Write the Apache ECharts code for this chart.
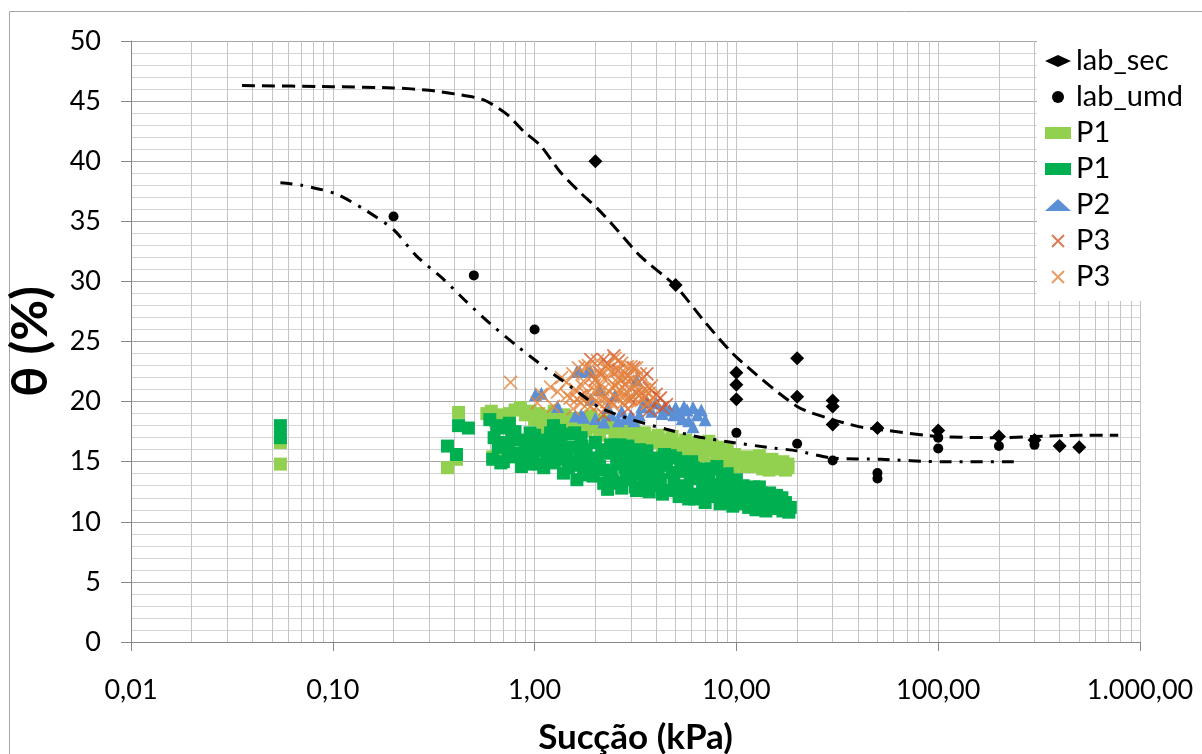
<!DOCTYPE html>
<html>
<head>
<meta charset="utf-8">
<script src="https://cdn.jsdelivr.net/npm/echarts@6/dist/echarts.min.js"></script>
<style>
html,body{margin:0;padding:0;background:#fff;}
#chart{width:1202px;height:754px;}
</style>
</head>
<body>
<div id="chart"></div>
<script>
// ---- tick labels ----
const xTicks = [0.01, 0.1, 1, 10, 100, 1000];
const xTickLabels = ['0,01', '0,10', '1,00', '10,00', '100,00', '1.000,00'];
const xMinorMultipliers = [2, 3, 4, 5, 6, 7, 8, 9];
const legendNames = ['lab_sec', 'lab_umd', 'P1', 'P1 ', 'P2', 'P3', 'P3 '];

// ---- laboratory points [suction kPa, theta %] ----
const labSec = [[2,40.0],[5,29.7],[10,22.4],[10,21.4],[10,20.2],[20,23.6],[20,20.4],[30,20.1],[30,19.6],[30,18.1],[50,17.8],[100,17.6],[200,17.1],[300,16.8],[400,16.3],[500,16.2]];
const labUmd = [[0.2,35.4],[0.5,30.5],[1,26.0],[10,17.4],[20,16.5],[30,15.1],[50,14.05],[50,13.6],[100,17.0],[100,16.1],[200,16.3],[300,16.4]];

// ---- field points ----
const p1a = [[0.055,14.8],[0.055,16.6],[0.37,14.5],[0.41,15.2],[0.42,19.1],
  [0.58,19.0],[0.61,19.2],[0.66,18.9],[0.72,18.7],[0.8,19.3],[0.85,19.5],[0.7,15.9],[0.62,15.4],[0.9,18.9],
  [1.0,18.5],[1.05,19.0],[1.1,18.2],[1.2,18.8],[1.3,18.4],[1.4,18.9],[1.5,18.1],[1.15,17.5],[1.35,17.0],
  [1.6,18.6],[1.75,18.3],[1.9,18.8],[2.0,17.9],[2.2,18.4],[2.4,18.0],[2.1,17.2],[1.8,17.6],[2.5,17.4],
  [2.6,17.9],[2.9,17.6],[3.1,17.7],[3.3,17.2],[3.5,17.4],[3.8,17.0],[3.0,16.6],[3.6,16.3],
  [4.1,17.2],[4.4,16.8],[4.8,17.1],[5.2,16.5],[5.6,16.8],[6.0,16.2],[6.5,16.6],[7.0,16.1],[4.6,15.9],[5.5,15.6],[6.3,15.3],
  [7.3,16.7],[8.2,16.2],[7.5,15.9],[8.0,15.5],[8.6,15.8],[9.2,15.2],[9.8,15.6],[10.5,15.0],[11.2,15.4],[7.8,14.8],[9.5,14.6],[11,14.6],
  [12,15.3],[13,15.0],[14,14.8],[15,15.2],[16,14.7],[17,15.0],[18,14.8],[13.5,14.4],[16.5,14.4],[18,14.5],
  [0.64,18.4],[0.75,19.0],[0.95,19.2],[1.25,19.2],[1.45,18.5],[1.65,18.0],[1.85,18.2],[2.3,17.8],[2.7,17.3],[3.2,16.9],[3.9,16.6],[4.3,16.3],[4.9,16.2],[5.8,16.0],[6.2,15.8],[6.8,15.5],[7.6,16.3],[8.4,15.1],[9.0,16.0],[10.1,15.3],[11.6,14.9],[12.5,14.6],[14.5,14.3],[15.5,14.6],[17.5,14.3],[13,15.5]];
const p1b = [[0.055,18.0],[0.055,17.0],[0.37,16.3],[0.41,15.6],[0.42,18.0],[0.47,17.8],
  [0.6,18.5],[0.65,18.0],[0.7,17.8],[0.75,18.2],[0.8,17.5],[0.63,17.0],[0.72,16.6],[0.85,16.8],[0.62,15.2],[0.7,15.0],[0.78,15.4],[0.82,15.7],[0.9,16.2],[0.92,14.8],[0.95,17.4],
  [1.0,17.2],[1.07,16.8],[1.1,15.9],[1.15,15.7],[1.2,16.4],[1.24,18.0],[1.3,15.2],[1.11,14.5],[1.39,14.05],[1.35,16.8],[1.45,15.8],[1.5,17.3],[1.25,14.9],
  [1.55,16.2],[1.62,13.5],[1.6,15.0],[1.7,17.0],[1.75,14.4],[1.8,16.0],[1.9,15.3],[1.95,13.8],[2.0,16.6],[2.1,14.6],[2.2,13.2],[2.25,15.7],[2.3,12.7],[2.4,14.1],[2.5,16.1],[2.45,13.4],
  [2.6,15.2],[2.7,12.8],[2.8,14.5],[2.9,16.3],[3.0,13.6],[3.1,15.6],[3.2,12.6],[3.3,14.8],[3.5,13.3],[3.6,15.9],[3.7,12.5],[3.8,14.2],[4.0,15.3],[4.0,13.0],
  [4.3,12.3],[4.5,14.7],[4.7,15.5],[4.9,13.4],[5.2,12.1],[5.4,14.2],[5.7,12.9],[6.0,15.0],[6.2,11.9],[6.5,13.6],[6.9,12.5],[7.0,11.6],[5.0,15.3],[6.7,14.4],
  [7.3,13.9],[7.6,12.1],[8.0,14.6],[8.3,11.5],[8.8,13.2],[9.2,12.4],[9.6,11.3],[10,13.5],[10.5,11.9],[11,12.7],[11.5,11.2],[12,12.2],
  [12.5,11.0],[13,12.9],[13.5,11.6],[14,10.9],[14.6,12.4],[15.5,11.1],[16,11.8],[17,10.9],[18,11.0],[18.5,11.2],[17.5,11.6],[15,12.0],
  [0.66,16.2],[0.74,16.0],[0.88,15.6],[0.98,15.2],[0.68,14.9],[0.86,14.6],[0.96,16.6],[0.77,17.0],
  [1.05,14.8],[1.18,15.0],[1.28,16.1],[1.4,15.3],[1.47,14.5],[1.33,17.6],[1.2,17.4],[1.02,16.0],
  [1.58,17.4],[1.65,14.7],[1.72,16.3],[1.85,13.9],[1.88,14.8],[2.05,15.3],[2.15,16.0],[2.2,14.3],[2.35,13.6],[2.38,16.4],[1.68,15.6],[2.55,14.8],[2.6,13.2],
  [2.75,15.8],[2.85,13.5],[2.95,14.9],[3.05,14.2],[3.15,12.9],[3.4,15.3],[3.45,14.0],[3.55,12.8],[3.75,15.0],[3.9,13.6],[3.3,16.0],[2.65,16.4],
  [4.1,14.4],[4.2,13.5],[4.4,15.6],[4.6,12.6],[4.8,14.1],[5.1,13.0],[5.3,15.0],[5.5,12.4],[5.9,13.7],[6.1,14.5],[6.4,12.3],[6.8,13.1],[5.8,11.9],[7.0,14.2],
  [7.2,12.8],[7.5,14.4],[7.8,13.1],[8.1,12.5],[8.5,13.8],[8.7,11.6],[9.0,14.0],[9.4,12.9],[9.9,12.2],[10.2,11.5],[10.8,13.0],[11.3,12.1],[11.8,11.6],[12.2,12.9],
  [12.8,11.9],[13.3,12.4],[13.8,11.3],[14.3,11.8],[15.2,11.5],[15.8,12.2],[16.5,11.2],[17.2,11.4],[18.2,10.8],[16.8,12.0]];
const p2 = [[1.01,20.6],[1.08,20.7],[1.59,18.8],[1.62,22.5],[1.67,22.5],[1.83,22.5],[1.89,22.5],[1.7,18.9],[1.9,20.2],[2.1,21.0],[2.3,19.5],[2.5,20.5],[2.7,19.2],[3.0,18.8],[3.2,21.8],[3.4,19.6],[3.6,20.0],[4.0,19.9],[4.3,19.0],[4.66,19.3],[4.9,18.9],[5.0,19.5],[5.4,18.6],[5.5,19.6],[6.1,19.5],[6.1,17.9],[6.7,19.3],[7.0,18.5],[2.0,18.6],[2.6,18.4],[3.1,18.4],
  [1.75,18.7],[2.2,18.3],[2.4,18.9],[2.8,18.6],[3.3,18.9],[3.8,19.2],[4.4,19.5],[5.2,19.0],[5.7,19.3],[5.8,18.4],[6.4,18.9],[1.3,19.6]];
const p3a = [[1.9,23.5],[2.2,23.5],[2.47,23.8],[2.2,18.9],[2.6,22.6],[2.8,21.4],[3.0,20.2],[3.2,20.7],[3.4,21.9],[3.7,21.1],[3.7,19.3],[4.0,20.6],[4.2,20.3],[4.5,19.75],[2.4,20.0],[2.0,21.8],[1.7,20.5],[3.1,22.8],[2.9,19.4],[3.5,20.4],
  [2.3,23.1],[2.6,23.4],[2.9,22.1],[3.3,20.5],[3.9,19.7],[4.3,19.5],[3.6,22.3],[2.1,22.4]];
const p3b = [[0.76,21.6],[1.03,19.9],[1.08,20.6],[1.24,19.6],[1.36,22.0],[1.44,21.6],[1.5,20.3],[1.55,19.4],[1.6,21.0],[1.65,22.8],[1.7,19.9],[1.75,21.7],[1.8,20.6],[1.85,23.0],[1.9,19.6],[1.95,22.2],[2.0,20.9],[2.05,23.4],[2.1,21.5],[2.1,19.8],[2.15,22.6],[2.2,20.4],[2.25,23.0],[2.3,21.9],[2.35,20.8],[2.4,22.5],[2.45,19.7],[2.5,21.3],[2.5,23.6],[2.55,20.3],[2.6,22.0],[2.65,21.0],[2.7,23.2],[2.75,19.9],[2.8,22.4],[2.85,20.8],[2.9,21.7],[3.0,22.9],[3.0,20.5],[3.1,21.3],[3.2,22.8],[3.25,20.0],[3.3,21.6],[3.4,20.8],[3.5,21.0],[3.6,19.8],[3.7,20.7],[3.9,20.2],[1.3,20.8],[1.2,21.2],
  [1.45,20.5],[1.55,22.3],[1.62,20.2],[1.78,22.9],[1.82,19.8],[1.98,21.4],[2.08,20.3],[2.12,22.2],[2.18,21.0],[2.28,20.0],[2.32,22.7],[2.42,21.2],[2.52,22.6],[2.58,21.6],[2.62,20.6],[2.72,21.8],[2.78,20.4],[2.88,22.9],[2.95,20.1],[3.05,21.9],[3.15,20.8],[3.35,22.3],[3.45,20.2],[3.8,21.3],[2.22,19.4],[1.92,20.4],[1.72,21.3]];

// ---- fitted curves ----
const dryCurve = [[0.0355,46.3],[0.1,46.2],[0.2,46.1],[0.3,45.9],[0.4,45.6],[0.56,45.1],[0.73,43.9],[0.88,42.5],[1.07,41.3],[1.34,39.1],[1.68,37.4],[2.04,36.1],[2.56,34.3],[3.34,32.1],[5,29.6],[7,26.6],[10,23.7],[20,19.6],[30,18.5],[41,17.9],[50,17.7],[100,17.1],[200,17.0],[300,17.1],[500,17.2],[780,17.2]];
const wetCurve = [[0.055,38.2],[0.07,38.0],[0.103,37.3],[0.146,35.9],[0.2,34.3],[0.26,32.1],[0.35,30.25],[0.46,28.3],[0.61,26.4],[0.83,24.55],[1.13,22.8],[1.55,21.1],[2.11,19.5],[3.03,18.5],[4.5,17.7],[6.5,17.06],[9.6,16.6],[14.2,16.2],[20,15.9],[30,15.3],[52,15.2],[103,15.0],[246,15.0]];

const FONT = 'Lato, "Liberation Sans", sans-serif';
const crossPath = 'path://M0,0L10,10M10,0L0,10';

// vertical log grid lines (decades + 2..9 x each decade), positioned by the x axis
const verticalGridLines = xTicks.slice(1).map(v => ({ xAxis: v }));
xTicks.slice(0, -1).forEach(d => xMinorMultipliers.forEach(m => verticalGridLines.push({ xAxis: d * m })));

function scatter(name, data, symbol, size, color, extra) {
  return Object.assign({
    name: name, type: 'scatter', data: data, symbol: symbol, symbolSize: size,
    itemStyle: { color: color, opacity: 1 }, emphasis: { disabled: true }, z: 3
  }, extra || {});
}
function curve(data, dash, width) {
  return {
    type: 'line', data: data, showSymbol: false, symbol: 'none', smooth: 0.25, z: 5,
    lineStyle: { color: '#000', width: width, type: dash, cap: 'butt' },
    emphasis: { disabled: true }, silent: true
  };
}

const chart = echarts.init(document.getElementById('chart'), null, { renderer: 'canvas' });
chart.setOption({
  animation: false,
  backgroundColor: '#fff',
  textStyle: { fontFamily: FONT },
  graphic: [{
    type: 'rect', left: 7, top: 9, silent: true, z: -10,
    shape: { x: 0, y: 0, width: 1220, height: 780 },
    style: { fill: 'none', stroke: '#a6a6a6', lineWidth: 1 }
  }],
  grid: { left: 131, right: 62, top: 41, bottom: 112, containLabel: false, outerBoundsMode: 'none' },
  legend: {
    data: legendNames,
    orient: 'vertical', left: 1037, top: 40,
    padding: [5, 4, 8, 8],
    backgroundColor: '#fff',
    itemWidth: 26, itemHeight: 12, itemGap: 4,
    selectedMode: false,
    formatter: function (n) { return n.trim(); },
    textStyle: { fontSize: 29, fontFamily: FONT, color: '#000', lineHeight: 32 },
    z: 10
  },
  xAxis: {
    type: 'log', logBase: 10, min: 0.01, max: 1000,
    name: 'Sucção (kPa)', nameLocation: 'middle', nameGap: 78,
    nameTextStyle: { fontSize: 35, fontWeight: 'bold', color: '#000', fontFamily: FONT },
    axisLine: { show: true, lineStyle: { color: '#868686', width: 1 } },
    axisTick: { show: true, length: 9, lineStyle: { color: '#868686' }, customValues: xTicks },
    axisLabel: {
      fontSize: 27, color: '#000', margin: 35, fontFamily: FONT,
      customValues: xTicks,
      formatter: function (v) {
        const i = xTicks.findIndex(t => Math.abs(Math.log10(t) - Math.log10(v)) < 1e-6);
        return i >= 0 ? xTickLabels[i] : '';
      }
    },
    splitLine: { show: false },
    minorSplitLine: { show: false }
  },
  yAxis: {
    type: 'value', min: 0, max: 50, interval: 5,
    name: 'θ (%)', nameLocation: 'middle', nameGap: 75,
    nameTextStyle: { fontSize: 50, fontWeight: 'bold', color: '#000', fontFamily: FONT },
    axisLine: { show: true, onZero: false, lineStyle: { color: '#868686', width: 1 } },
    axisTick: { show: true, length: 10, lineStyle: { color: '#868686' } },
    axisLabel: { fontSize: 27, color: '#000', margin: 30, fontFamily: FONT },
    splitLine: { show: true, lineStyle: { color: '#a6a6a6', width: 1 } },
    minorTick: { show: false, splitNumber: 5 },
    minorSplitLine: { show: true, lineStyle: { color: '#d4d4d4', width: 1 } }
  },
  series: [
    {
      type: 'scatter', data: [], silent: true, z: 0,
      markLine: {
        silent: true, symbol: ['none', 'none'], label: { show: false }, z: 0,
        lineStyle: { color: '#c4c4c4', width: 1, type: 'solid' },
        emphasis: { disabled: true },
        data: verticalGridLines
      }
    },
    scatter('P1', p1a, 'rect', 13, '#92D050'),
    scatter('P1 ', p1b, 'rect', 13, '#00B050'),
    scatter('P2', p2, 'triangle', 13, '#5B8FD6'),
    scatter('P3', p3a, crossPath, 13, '#D4582A', { itemStyle: { color: '#D4582A', borderColor: '#D4582A', borderWidth: 1.8 } }),
    scatter('P3 ', p3b, crossPath, 13, '#E3843F', { itemStyle: { color: '#E3843F', borderColor: '#E3843F', borderWidth: 1.8 } }),
    scatter('lab_sec', labSec, 'diamond', 14, '#000'),
    scatter('lab_umd', labUmd, 'circle', 10, '#000'),
    curve(dryCurve, [13, 7], 3),
    curve(wetCurve, [12, 8, 3, 8], 3)
  ]
});
</script>
</body>
</html>
